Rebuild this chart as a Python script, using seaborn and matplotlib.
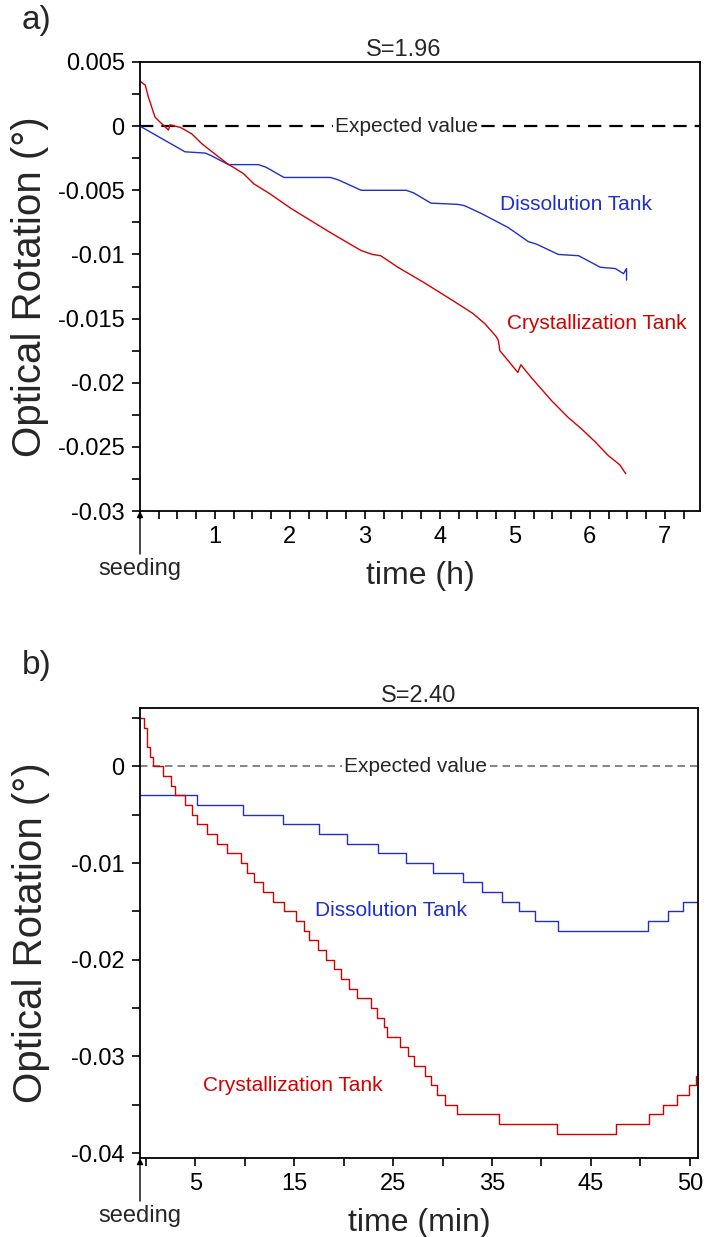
import numpy as np
import pandas as pd
import matplotlib
matplotlib.use("Agg")
import matplotlib.pyplot as plt
import seaborn as sns
from matplotlib.ticker import FixedLocator, FixedFormatter

# ---------------- data ----------------
# panel a (time in h, optical rotation in degrees)
t_blue_a = [0, 0.3, 0.6, 0.87, 0.95, 1.18, 1.58, 1.68, 1.92, 2.54, 2.65, 2.95, 3.55,
            3.65, 3.88, 4.24, 4.33, 4.55, 4.91, 5.18, 5.29, 5.58, 5.85, 6.14, 6.34,
            6.45, 6.49, 6.49]
v_blue_a = [0, -0.001, -0.002, -0.0021, -0.0023, -0.003, -0.003, -0.0032, -0.004, -0.004,
            -0.0042, -0.005, -0.005, -0.0052, -0.006, -0.0061, -0.0062, -0.0068, -0.0079,
            -0.0090, -0.0092, -0.0100, -0.0101, -0.0110, -0.0111, -0.0115, -0.0111, -0.0120]

t_red_a = [0, 0.07, 0.11, 0.2, 0.27, 0.38, 0.40, 0.54, 0.69, 0.83, 0.94, 1.16, 1.38, 1.52,
           1.74, 2.01, 2.54, 2.95, 3.1, 3.21, 3.44, 3.79, 4.2, 4.44, 4.6, 4.75, 4.78, 4.80,
           5.04, 5.08, 5.22, 5.49, 5.71, 5.89, 6.07, 6.25, 6.40, 6.48]
v_red_a = [0.0035, 0.0032, 0.0023, 0.0007, 0.0003, -0.0003, 0.0001, -0.0001, -0.0006,
           -0.0014, -0.0019, -0.0029, -0.0037, -0.0045, -0.0053, -0.0064, -0.0083, -0.0097,
           -0.0100, -0.0101, -0.0110, -0.0122, -0.0137, -0.0146, -0.0154, -0.0164, -0.0167,
           -0.0175, -0.0192, -0.0186, -0.0196, -0.0214, -0.0227, -0.0236, -0.0246, -0.0257,
           -0.0264, -0.0271]

# panel b (time in min) - step data
t_blue_b = [-0.59, 5.15, 9.86, 13.84, 17.51, 20.31, 23.45, 26.28, 29.04, 32.10, 33.96,
            36.05, 37.77, 39.38, 41.65, 50.75, 52.77, 54.35, 55.83]
v_blue_b = [-0.003, -0.004, -0.005, -0.006, -0.007, -0.008, -0.009, -0.010, -0.011, -0.012,
            -0.013, -0.014, -0.015, -0.016, -0.017, -0.016, -0.015, -0.014, -0.014]

t_red_b = [-0.59, -0.23, 0.15, 0.42, 0.76, 1.71, 2.52, 2.95, 3.96, 4.70, 5.15, 6.22, 7.23,
           8.18, 9.60, 10.20, 10.94, 11.88, 12.86, 14.00, 15.19, 15.99, 16.53, 17.44, 18.22,
           19.03, 19.71, 20.55, 21.39, 22.74, 23.41, 24.08, 24.42, 25.70, 26.54, 27.12,
           28.23, 28.79, 29.44, 30.28, 31.51, 35.69, 41.61, 47.51, 50.83, 52.34, 53.70,
           54.92, 55.61, 55.83]
v_red_b = [0.005, 0.004, 0.002, 0.001, 0.000, -0.001, -0.002, -0.003, -0.004, -0.005,
           -0.006, -0.007, -0.008, -0.009, -0.010, -0.011, -0.012, -0.013, -0.014, -0.015,
           -0.016, -0.017, -0.018, -0.019, -0.020, -0.021, -0.022, -0.023, -0.024, -0.025,
           -0.026, -0.027, -0.028, -0.029, -0.030, -0.031, -0.032, -0.033, -0.034, -0.035,
           -0.036, -0.037, -0.038, -0.037, -0.036, -0.035, -0.034, -0.033, -0.032, -0.032]

# ticks / labels
xticks_a = [0, 1, 2, 3, 4, 5, 6, 7]
xticklabels_a = ["", "1", "2", "3", "4", "5", "6", "7"]
yticks_a = [0.005, 0, -0.005, -0.01, -0.015, -0.02, -0.025, -0.03]
yticklabels_a = ["0.005", "0", "-0.005", "-0.01", "-0.015", "-0.02", "-0.025", "-0.03"]
xticks_b = [5, 15, 25, 35, 45, 55]
xticklabels_b = ["5", "15", "25", "35", "45", "50"]
yticks_b = [0, -0.01, -0.02, -0.03, -0.04]
yticklabels_b = ["0", "-0.01", "-0.02", "-0.03", "-0.04"]

RED = "#d40000"
BLUE = "#1f2fcc"

# ---------------- style ----------------
sns.set_theme(style="ticks")
plt.rcParams["font.family"] = ["Liberation Sans", "DejaVu Sans"]
plt.rcParams["axes.linewidth"] = 1.3

W, H = 707, 1237
fig = plt.figure(figsize=(W / 100, H / 100), dpi=100)


def axes_px(l, t, r, b):
    return fig.add_axes([l / W, 1 - b / H, (r - l) / W, (b - t) / H])


axA = axes_px(140, 62, 700, 511)
axB = axes_px(140, 708, 698, 1158)

for ax in (axA, axB):
    for s in ax.spines.values():
        s.set_visible(True)
        s.set_color("black")
        s.set_linewidth(1.3)
    ax.tick_params(which="both", direction="out", length=6, width=1.2, color="black",
                   labelsize=17, pad=5, top=False, right=False, labelcolor="black")
    ax.set_facecolor("white")

# ---------------- panel a ----------------
sns.lineplot(x=t_blue_a, y=v_blue_a, ax=axA, color=BLUE, lw=1.0, estimator=None, sort=False)
sns.lineplot(x=t_red_a, y=v_red_a, ax=axA, color=RED, lw=1.0, estimator=None, sort=False)
axA.axhline(0, color="black", lw=1.6, ls=(0, (6.0, 3.6)), zorder=1)
axA.text(3.55, 0, "Expected value", ha="center", va="center", fontsize=15, zorder=5,
         bbox=dict(facecolor="white", edgecolor="none", pad=1.5))
axA.text(5.82, -0.0061, "Dissolution Tank", color=BLUE, ha="center", va="center", fontsize=15)
axA.text(6.09, -0.01537, "Crystallization Tank", color=RED, ha="center", va="center", fontsize=15)
axA.set_xlim(0, 7.47)
axA.set_ylim(-0.03, 0.005)
axA.xaxis.set_major_locator(FixedLocator(xticks_a))
axA.xaxis.set_major_formatter(FixedFormatter(xticklabels_a))
axA.xaxis.set_minor_locator(FixedLocator(list(np.arange(0, 7.5, 0.25))))
axA.yaxis.set_major_locator(FixedLocator(yticks_a))
axA.yaxis.set_major_formatter(FixedFormatter(yticklabels_a))
axA.yaxis.set_minor_locator(FixedLocator(list(np.arange(-0.03, 0.0051, 0.0025))))
axA.set_title("S=1.96", fontsize=17, pad=4, x=0.47)
axA.set_xlabel("time (h)", fontsize=23)
axA.xaxis.set_label_coords(0.5, -0.112)
axA.set_ylabel("Optical Rotation (°)", fontsize=29)
axA.yaxis.set_label_coords(-0.162, 0.5)

# ---------------- panel b ----------------
sns.lineplot(x=t_blue_b, y=v_blue_b, ax=axB, color=BLUE, lw=1.0, estimator=None, sort=False,
             drawstyle="steps-post")
sns.lineplot(x=t_red_b, y=v_red_b, ax=axB, color=RED, lw=1.0, estimator=None, sort=False,
             drawstyle="steps-post")
axB.axhline(0, color="#707070", lw=1.2, ls=(0, (4.5, 3.0)), zorder=1)
axB.text(27.3, 0, "Expected value", ha="center", va="center", fontsize=15, zorder=5,
         bbox=dict(facecolor="white", edgecolor="none", pad=1.5))
axB.text(24.8, -0.0149, "Dissolution Tank", color=BLUE, ha="center", va="center", fontsize=15)
axB.text(14.9, -0.033, "Crystallization Tank", color=RED, ha="center", va="center", fontsize=15)
axB.set_xlim(-0.59, 55.83)
axB.set_ylim(-0.0405, 0.00603)
axB.xaxis.set_major_locator(FixedLocator(xticks_b))
axB.xaxis.set_major_formatter(FixedFormatter(xticklabels_b))
axB.xaxis.set_minor_locator(FixedLocator([0, 10, 20, 30, 40, 50]))
axB.yaxis.set_major_locator(FixedLocator(yticks_b))
axB.yaxis.set_major_formatter(FixedFormatter(yticklabels_b))
axB.yaxis.set_minor_locator(FixedLocator([0.005, -0.005, -0.015, -0.025, -0.035]))
axB.set_title("S=2.40", fontsize=17, pad=4)
axB.set_xlabel("time (min)", fontsize=23)
axB.xaxis.set_label_coords(0.5, -0.112)
axB.set_ylabel("Optical Rotation (°)", fontsize=29)
axB.yaxis.set_label_coords(-0.162, 0.5)

# seeding arrows
for ax in (axA, axB):
    ax.annotate("", xy=(0, 0), xycoords="axes fraction", xytext=(0, -31),
                textcoords="offset points",
                arrowprops=dict(arrowstyle="-|>", color="black", lw=1.0, mutation_scale=9,
                                shrinkA=0, shrinkB=0), annotation_clip=False)
    ax.annotate("seeding", xy=(0, 0), xycoords="axes fraction", xytext=(0, -34),
                textcoords="offset points", ha="center", va="top", fontsize=17,
                annotation_clip=False)

fig.text(22 / W, 1 - 20 / H, "a)", fontsize=24, ha="left", va="center")
fig.text(22 / W, 1 - 665 / H, "b)", fontsize=24, ha="left", va="center")

fig.savefig("out.png", dpi=100, facecolor="white")
